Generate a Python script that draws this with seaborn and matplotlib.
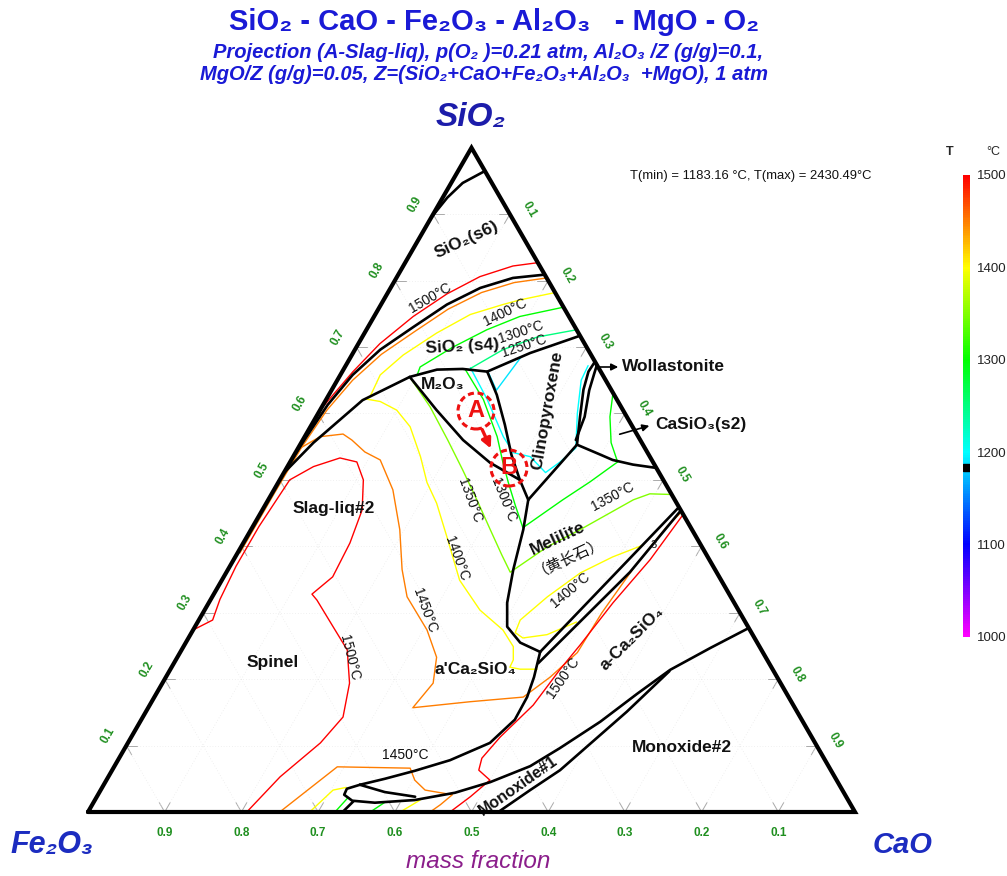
import numpy as np
import pandas as pd
import matplotlib
matplotlib.use("Agg")
import matplotlib.pyplot as plt
from matplotlib.colors import LinearSegmentedColormap, Normalize
from matplotlib.patches import Circle
import matplotlib.colorbar as mcolorbar
import seaborn as sns

# all compositions are mass fractions (CaO, SiO2); Fe2O3 = 1 - CaO - SiO2

# phase boundaries
sio2_s6_top = [(0.0, 0.895), (0.006, 0.925), (0.015, 0.947), (0.035, 0.965)]
sio2_s6_s4 = [(0.191, 0.809), (0.152, 0.804), (0.117, 0.789), (0.086, 0.764), (0.059, 0.730),
              (0.033, 0.696), (0.016, 0.658), (0.006, 0.613), (0.002, 0.56), (0.0, 0.515)]
sio2_s4_low = [(0.0, 0.51), (0.016, 0.556), (0.048, 0.62), (0.092, 0.655), (0.122, 0.666),
               (0.155, 0.667), (0.189, 0.663), (0.231, 0.691), (0.283, 0.717)]
m2o3_left = [(0.092, 0.655), (0.152, 0.605), (0.209, 0.560), (0.261, 0.526), (0.313, 0.5), (0.339, 0.47)]
m2o3_right = [(0.189, 0.663), (0.219, 0.628), (0.252, 0.583), (0.283, 0.538), (0.313, 0.5)]
clino_low = [(0.339, 0.47), (0.361, 0.553)]
wollast_a = [(0.361, 0.553), (0.344, 0.595), (0.328, 0.636), (0.321, 0.663), (0.322, 0.678)]
wollast_b = [(0.356, 0.56), (0.35, 0.595), (0.336, 0.635), (0.33, 0.66), (0.327, 0.673)]
casio3_low = [(0.361, 0.553), (0.399, 0.538), (0.419, 0.530), (0.449, 0.523), (0.482, 0.518)]
melilite_left = [(0.339, 0.47), (0.355, 0.425), (0.372, 0.365), (0.389, 0.315), (0.407, 0.279),
                 (0.436, 0.255), (0.469, 0.241)]
c2s_upper = [(0.469, 0.241), (0.541, 0.459)]
c2s_lower = [(0.475, 0.224), (0.526, 0.361), (0.546, 0.454)]
c2s_prime_low = [(0.469, 0.241), (0.480, 0.203), (0.486, 0.173), (0.487, 0.139), (0.472, 0.104),
                 (0.433, 0.078), (0.395, 0.062), (0.362, 0.050), (0.334, 0.041)]
monoxide1_up = [(0.334, 0.041), (0.320, 0.035), (0.321, 0.026), (0.336, 0.017), (0.367, 0.014),
                (0.417, 0.018), (0.464, 0.029), (0.502, 0.045), (0.542, 0.069), (0.567, 0.096),
                (0.600, 0.136), (0.627, 0.178), (0.652, 0.214), (0.688, 0.247), (0.723, 0.277)]
loop_inner = [(0.334, 0.041), (0.372, 0.030), (0.415, 0.023)]
loop_foot = [(0.338, 0.016), (0.332, 0.0)]
monoxide1_low = [(0.535, 0.0), (0.560, 0.033), (0.584, 0.063), (0.627, 0.151), (0.652, 0.212)]

# isotherms
iso_1500_s6 = [(0.0, 0.605), (0.003, 0.6175), (0.014, 0.663), (0.028, 0.705), (0.051, 0.746),
               (0.078, 0.780), (0.108, 0.806), (0.143, 0.822), (0.173, 0.827)]
iso_1450_s4 = [(0.196, 0.804), (0.157, 0.797), (0.122, 0.782), (0.091, 0.757), (0.064, 0.723),
               (0.038, 0.689), (0.020, 0.650), (0.009, 0.605), (0.004, 0.55), (0.003, 0.48), (0.003, 0.39)]
iso_1400_s4 = [(0.218, 0.782), (0.178, 0.771), (0.159, 0.764), (0.124, 0.749), (0.094, 0.721),
               (0.067, 0.688), (0.052, 0.658), (0.055, 0.626)]
iso_1300_s4 = [(0.24, 0.76), (0.190, 0.746), (0.157, 0.726), (0.126, 0.700), (0.098, 0.670), (0.10, 0.659)]
iso_1250_s4 = [(0.274, 0.726), (0.228, 0.715), (0.193, 0.696), (0.165, 0.668)]
iso_1190 = [(0.19, 0.663), (0.215, 0.635), (0.222, 0.684)]
iso_1200 = [(0.164, 0.669), (0.210, 0.621), (0.259, 0.565), (0.284, 0.541), (0.309, 0.535),
            (0.341, 0.511), (0.352, 0.527), (0.362, 0.548), (0.338, 0.60), (0.318, 0.65), (0.316, 0.672)]
iso_1300_mid = [(0.158, 0.667), (0.205, 0.621), (0.251, 0.565), (0.278, 0.526), (0.300, 0.496),
                (0.326, 0.462), (0.353, 0.428), (0.384, 0.470), (0.406, 0.497), (0.427, 0.527)]
iso_1300_casio3 = [(0.369, 0.631), (0.383, 0.595), (0.404, 0.556), (0.427, 0.527)]
iso_1350_mid = [(0.093, 0.654), (0.141, 0.610), (0.189, 0.560), (0.231, 0.515), (0.272, 0.470),
                (0.312, 0.425), (0.346, 0.387), (0.370, 0.361), (0.399, 0.399), (0.429, 0.425),
                (0.476, 0.470), (0.493, 0.479), (0.522, 0.478)]
iso_1400_mid = [(0.05, 0.622), (0.072, 0.618), (0.100, 0.605), (0.130, 0.580), (0.166, 0.535),
                (0.194, 0.496), (0.222, 0.465), (0.261, 0.414), (0.310, 0.349), (0.359, 0.304),
                (0.404, 0.274), (0.430, 0.249), (0.440, 0.229), (0.441, 0.218), (0.456, 0.215), (0.478, 0.215)]
iso_1400_mel = [(0.523, 0.402), (0.492, 0.384), (0.462, 0.360), (0.437, 0.324), (0.419, 0.289),
                (0.422, 0.270), (0.436, 0.262), (0.465, 0.267), (0.494, 0.286)]
iso_1450_mid = [(0.003, 0.548), (0.020, 0.565), (0.048, 0.569), (0.064, 0.560), (0.090, 0.542),
                (0.116, 0.530), (0.155, 0.485), (0.194, 0.425), (0.227, 0.365), (0.254, 0.324),
                (0.305, 0.274), (0.338, 0.233), (0.353, 0.194), (0.345, 0.157), (0.415, 0.166),
                (0.481, 0.173), (0.501, 0.203), (0.518, 0.24), (0.520, 0.30), (0.528, 0.37),
                (0.540, 0.43), (0.548, 0.452)]
iso_1500_low = [(0.552, 0.448), (0.543, 0.380), (0.527, 0.315), (0.516, 0.252), (0.508, 0.214),
                (0.500, 0.161), (0.481, 0.113), (0.473, 0.081), (0.478, 0.063), (0.500, 0.048),
                (0.487, 0.023), (0.472, 0.0)]
iso_1500_spinel = [(0.0, 0.274), (0.018, 0.289), (0.012, 0.32), (0.008, 0.37), (0.008, 0.43),
                   (0.013, 0.50), (0.034, 0.52), (0.062, 0.533), (0.087, 0.527), (0.109, 0.50),
                   (0.130, 0.455), (0.139, 0.405), (0.142, 0.354), (0.128, 0.328), (0.139, 0.319),
                   (0.180, 0.279), (0.216, 0.244), (0.244, 0.194), (0.261, 0.143), (0.251, 0.104),
                   (0.224, 0.053), (0.207, 0.0)]
iso_1450_low = [(0.250, 0.0), (0.291, 0.068), (0.387, 0.066), (0.402, 0.048), (0.423, 0.033),
                (0.462, 0.026), (0.454, 0.011), (0.446, 0.0)]
iso_1400_low_a = [(0.289, 0.0), (0.303, 0.033), (0.318, 0.037)]
iso_1400_low_b = [(0.424, 0.018), (0.407, 0.0)]
iso_1300_low_a = [(0.322, 0.0), (0.328, 0.021)]
iso_1300_low_b = [(0.380, 0.015), (0.368, 0.0)]

grid_fracs = [0.1, 0.2, 0.3, 0.4, 0.5, 0.6, 0.7, 0.8, 0.9]
cbar_ticks = [1000, 1100, 1200, 1300, 1400, 1500]
t_min, t_max = 1183.16, 2430.49

boundaries = [sio2_s6_top, sio2_s6_s4, sio2_s4_low, m2o3_left, m2o3_right, clino_low, wollast_a,
              wollast_b, casio3_low, melilite_left, c2s_upper, c2s_lower, c2s_prime_low,
              monoxide1_up, loop_inner, loop_foot, monoxide1_low]
isotherms = [(1500, iso_1500_s6), (1450, iso_1450_s4), (1400, iso_1400_s4), (1300, iso_1300_s4),
             (1250, iso_1250_s4), (1190, iso_1190), (1200, iso_1200), (1300, iso_1300_mid),
             (1300, iso_1300_casio3), (1350, iso_1350_mid), (1400, iso_1400_mid), (1400, iso_1400_mel),
             (1450, iso_1450_mid), (1500, iso_1500_low), (1500, iso_1500_spinel), (1450, iso_1450_low),
             (1400, iso_1400_low_a), (1400, iso_1400_low_b), (1300, iso_1300_low_a), (1300, iso_1300_low_b)]

R3 = np.sqrt(3) / 2
W, H = 1007, 876


def tern(pts):
    c = np.array([p[0] for p in pts])
    s = np.array([p[1] for p in pts])
    return c + s / 2, s * R3


def px(x, y):
    # position in the picture (pixels) -> axes data units
    return (x - 88) / 767, (812 - y) / 767


def curves_df(curves):
    parts = []
    for k, (t, pts) in enumerate(curves):
        X, Y = tern(pts)
        parts.append(pd.DataFrame({'X': X, 'Y': Y, 'T': t, 'curve': k}))
    return pd.concat(parts, ignore_index=True)


sns.set_theme(style="white")
plt.rcParams['font.family'] = ['Liberation Sans', 'DejaVu Sans', 'Noto Sans CJK SC']

cmap = LinearSegmentedColormap.from_list(
    'thermo', [(0.0, '#ff00ff'), (0.2, '#0000ff'), (0.4, '#00ffff'),
               (0.6, '#00ff00'), (0.8, '#ffff00'), (1.0, '#ff0000')])
norm = Normalize(1000, 1500)

fig = plt.figure(figsize=(W / 100, H / 100), dpi=100)
ax = fig.add_axes([0, 0, 1, 1])

# faint grid + gray ticks
for f in grid_fracs:
    for a, b in [((0, f), (1 - f, f)), ((f, 0), (f, 1 - f)), ((1 - f, 0), (0, 1 - f))]:
        X, Y = tern([a, b])
        ax.plot(X, Y, color='#e4e4e4', lw=0.5, ls=(0, (1, 3)), zorder=1)
    tl = 0.014
    for p0, dirs in [((f, 0), [(0, 1), (-1, 1)]), ((0, f), [(1, 0), (1, -1)]),
                     ((1 - f, f), [(-1, 0), (0, -1)])]:
        for d in dirs:
            X, Y = tern([p0, (p0[0] + d[0] * tl, p0[1] + d[1] * tl)])
            ax.plot(X, Y, color='#aaaaaa', lw=0.7, zorder=1)

iso_df = curves_df(isotherms)
sns.lineplot(data=iso_df, x='X', y='Y', hue='T', units='curve', estimator=None, sort=False,
             palette=cmap, hue_norm=norm, lw=1.0, legend=False, ax=ax, zorder=2)

bnd_df = curves_df([(0, b) for b in boundaries])
sns.lineplot(data=bnd_df, x='X', y='Y', units='curve', estimator=None, sort=False,
             color='black', lw=1.9, legend=False, ax=ax, zorder=3)

X, Y = tern([(0, 0), (1, 0), (0, 1), (0, 0)])
ax.plot(X, Y, color='black', lw=3.0, solid_joinstyle='miter', zorder=4)

ax.set_xlim(-88 / 767, (W - 88) / 767)
ax.set_ylim(-(H - 812) / 767, 812 / 767)
ax.axis('off')

# axis numbers
green = '#1f8f1f'
for f in grid_fracs:
    lbl = f'{f:.1f}'
    ax.text(1 - f, -21 / 767, lbl, color=green, fontsize=8.5, fontweight='bold', ha='center', va='center')
    X, Y = tern([(0, f)])
    ax.text(X[0] - 18 / 767, Y[0] + 10 / 767, lbl, color=green, fontsize=8.5, fontweight='bold',
            rotation=60, ha='center', va='center')
    X, Y = tern([(f, 1 - f)])
    ax.text(X[0] + 19 / 767, Y[0] + 5 / 767, lbl, color=green, fontsize=8.5, fontweight='bold',
            rotation=-60, ha='center', va='center')


def lab(x, y, s, size=12.5, bold=True, rot=0, color='#111111', **kw):
    ax.text(*px(x, y), s, fontsize=size, fontweight='bold' if bold else 'normal', rotation=rot,
            color=color, ha=kw.pop('ha', 'center'), va='center', rotation_mode='anchor', **kw)


# phase labels
lab(467, 240, 'SiO₂(s6)', rot=25)
lab(462, 347, 'SiO₂ (s4)', rot=3)
lab(443, 385, 'M₂O₃')
lab(547, 410, 'Clinopyroxene', rot=80)
lab(622, 367, 'Wollastonite', ha='left')
lab(655, 425, 'CaSiO₃(s2)', ha='left')
lab(558, 538, 'Melilite', rot=25)
lab(568, 555, '（黄长石）', bold=False, rot=25, size=11)
lab(334, 508, 'Slag-liq#2')
lab(273, 662, 'Spinel')
lab(475, 670, "a'Ca₂SiO₄")
lab(632, 638, 'a-Ca₂SiO₄', rot=45)
lab(682, 748, 'Monoxide#2')
lab(518, 786, 'Monoxide#1', rot=35, size=11.5)
lab(654, 545, '3', size=8, bold=False)

# isotherm labels
for x, y, t, r in [(430, 298, '1500°C', 30), (505, 312, '1400°C', 26), (521, 332, '1300°C', 18),
                   (524, 346, '1250°C', 18), (470, 500, '1350°C', -70), (503, 500, '1300°C', -68),
                   (457, 558, '1400°C', -70), (425, 610, '1450°C', -70), (350, 658, '1500°C', -76),
                   (613, 497, '1350°C', 28), (570, 590, '1400°C', 40), (563, 678, '1500°C', 55),
                   (405, 755, '1450°C', 0)]:
    lab(x, y, t, size=10, bold=False, rot=r)

# arrows to the thin regions
for x0, y0, x1, y1 in [(596, 367, 621, 367), (617, 435, 652, 425)]:
    ax.annotate('', xy=px(x1, y1), xytext=px(x0, y0),
                arrowprops=dict(arrowstyle='-|>', color='black', lw=1.2, mutation_scale=10))

# points A and B
for x, y, t in [(476, 411, 'A'), (509, 468, 'B')]:
    ax.add_patch(Circle(px(x, y), 18 / 767, fill=False, ec='#ee1111', lw=2.2, ls=(0, (2, 1.2)), zorder=6))
    lab(x, y, t, size=17, color='#ee1111', zorder=6)
ax.annotate('', xy=px(492, 451), xytext=px(481, 427),
            arrowprops=dict(arrowstyle='-|>', color='#ee1111', lw=2.4, mutation_scale=14), zorder=6)

# corners and titles
blue = '#1a1ad6'
lab(471, 118, 'SiO₂', size=24, color='#1c1caa', style='italic')
lab(52, 845, 'Fe₂O₃', size=22, color='#1c2cc0', style='italic')
lab(903, 845, 'CaO', size=21, color='#1c2cc0', style='italic')
lab(478, 862, 'mass fraction', size=17.5, bold=False, color='#8b1e8b', style='italic')

fig.text(494 / W, 1 - 22 / H, 'SiO₂ - CaO - Fe₂O₃ - Al₂O₃   - MgO - O₂', color=blue, fontsize=21,
         fontweight='bold', ha='center', va='center')
fig.text(488 / W, 1 - 52 / H, 'Projection (A-Slag-liq), p(O₂ )=0.21 atm, Al₂O₃ /Z (g/g)=0.1,',
         color=blue, fontsize=14.5, fontweight='bold', style='italic', ha='center', va='center')
fig.text(484 / W, 1 - 74 / H, 'MgO/Z (g/g)=0.05, Z=(SiO₂+CaO+Fe₂O₃+Al₂O₃  +MgO), 1 atm',
         color=blue, fontsize=14.5, fontweight='bold', style='italic', ha='center', va='center')
fig.text(751 / W, 1 - 176 / H, f'T(min) = {t_min:.2f} °C, T(max) = {t_max:.2f}°C',
         fontsize=9.4, ha='center', va='center', color='#111111')

# colour bar
cax = fig.add_axes([963 / W, 1 - 637 / H, 7 / W, (637 - 175) / H])
cb = mcolorbar.ColorbarBase(cax, cmap=cmap, norm=norm, orientation='vertical', ticks=cbar_ticks)
cb.outline.set_visible(False)
cax.tick_params(length=0, labelsize=9.5, pad=5, colors='#222222')
cax.axhspan(t_min - 4, t_min + 4, color='black')
fig.text(950 / W, 1 - 152 / H, 'T', fontsize=9, fontweight='bold', ha='center', va='center')
fig.text(993 / W, 1 - 152 / H, '°C', fontsize=9, ha='center', va='center')

fig.savefig('out.png', dpi=100)
